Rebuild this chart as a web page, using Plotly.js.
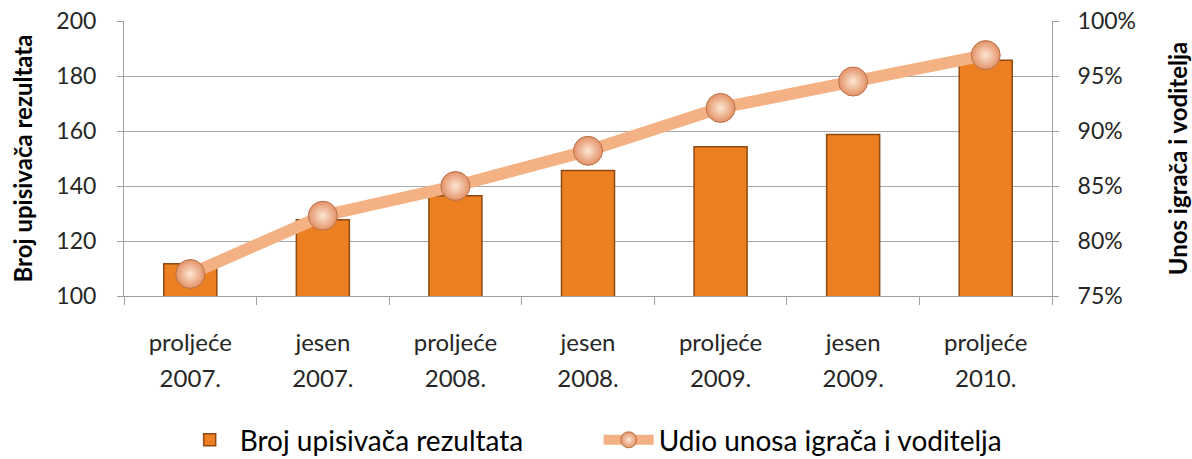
<!DOCTYPE html>
<html><head><meta charset="utf-8">
<script src="https://cdn.plot.ly/plotly-3.0.1.min.js"></script>
<style>body{margin:0;background:#fff}#chart{width:1192px;height:459px}</style>
</head><body><div id="chart"></div>
<script>
const seasons = ["proljeće", "jesen", "proljeće", "jesen", "proljeće", "jesen", "proljeće"];
const years = ["2007.", "2007.", "2008.", "2008.", "2009.", "2009.", "2010."];
const barValues = [111.7, 127.7, 136.5, 145.6, 154.3, 158.7, 185.7];
const lineValues = [0.770, 0.823, 0.850, 0.882, 0.921, 0.945, 0.969];
const barName = "Broj upisivača rezultata";
const lineName = "Udio unosa igrača i voditelja";
const leftTitle = "Broj upisivača rezultata";
const rightTitle = "Unos igrača i voditelja";

const categories = seasons.map((s, i) => s + " " + years[i]);
const idx = categories.map((_, i) => i);
const font = "Lato, 'Open Sans', sans-serif";
const tickCol = '#262626';
const traces = [
  {type:'bar', x:categories, y:barValues, name:barName, width:0.4,
   marker:{color:'#ec7f22', line:{color:'#8f4a12', width:1.5}}},
  {type:'scatter', mode:'lines+markers', x:categories, y:lineValues, name:lineName, yaxis:'y2',
   line:{color:'#f4b183', width:12},
   marker:{size:29, color:'#e39166', gradient:{type:'radial', color:'#fde6d4'}, line:{color:'#b87048', width:1}}},
  // invisible helper so the second-line (year) axis is drawn
  {type:'scatter', mode:'markers', x:idx, y:barValues, xaxis:'x2', marker:{opacity:0}, showlegend:false, hoverinfo:'skip'}
];
const layout = {
  width:1192, height:459,
  margin:{l:124, r:140, t:21, b:163, autoexpand:false},
  paper_bgcolor:'#fff', plot_bgcolor:'#fff',
  font:{family:font, size:22, color:tickCol},
  showlegend:true,
  legend:{orientation:'h', x:0.06, xanchor:'left', y:-0.524, yanchor:'middle', font:{size:28, color:'#000'},
          entrywidth:354, itemwidth:50},
  xaxis:{type:'category', automargin:false, showline:true, linecolor:'#a0a0a0', ticks:'outside', tickson:'boundaries', ticklen:8, tickcolor:'#a0a0a0',
         tickmode:'array', tickvals:categories, ticktext:seasons, ticklabelstandoff:25,
         tickfont:{size:24, color:tickCol}, showgrid:false},
  xaxis2:{overlaying:'x', side:'bottom', automargin:false, range:[-0.5, 6.5], showline:false, showgrid:false, zeroline:false,
          ticks:'', tickmode:'array', tickvals:idx, ticktext:years, ticklabelstandoff:66, tickfont:{size:24, color:tickCol}},
  yaxis:{range:[100,200], dtick:20, automargin:false, showline:true, linecolor:'#a0a0a0', ticks:'outside', ticklen:6, tickcolor:'#a0a0a0',
         gridcolor:'#a8a8a8', gridwidth:1, tickfont:{size:23, color:tickCol}, zeroline:false, ticklabelstandoff:16,
         title:{text:'<b>'+leftTitle+'</b>', font:{size:24, color:'#000'}, standoff:16}},
  yaxis2:{range:[0.75,1.0], dtick:0.05, tickformat:'.0%', overlaying:'y', side:'right', automargin:false, showline:true, linecolor:'#a0a0a0',
          ticks:'outside', ticklen:6, tickcolor:'#a0a0a0', showgrid:false, zeroline:false, tickfont:{size:23, color:tickCol}, ticklabelstandoff:14,
          title:{text:'<b>'+rightTitle+'</b>', font:{size:24, color:'#000'}, standoff:37}}
};
Plotly.newPlot('chart', traces, layout, {displayModeBar:false, staticPlot:true});
</script></body></html>
